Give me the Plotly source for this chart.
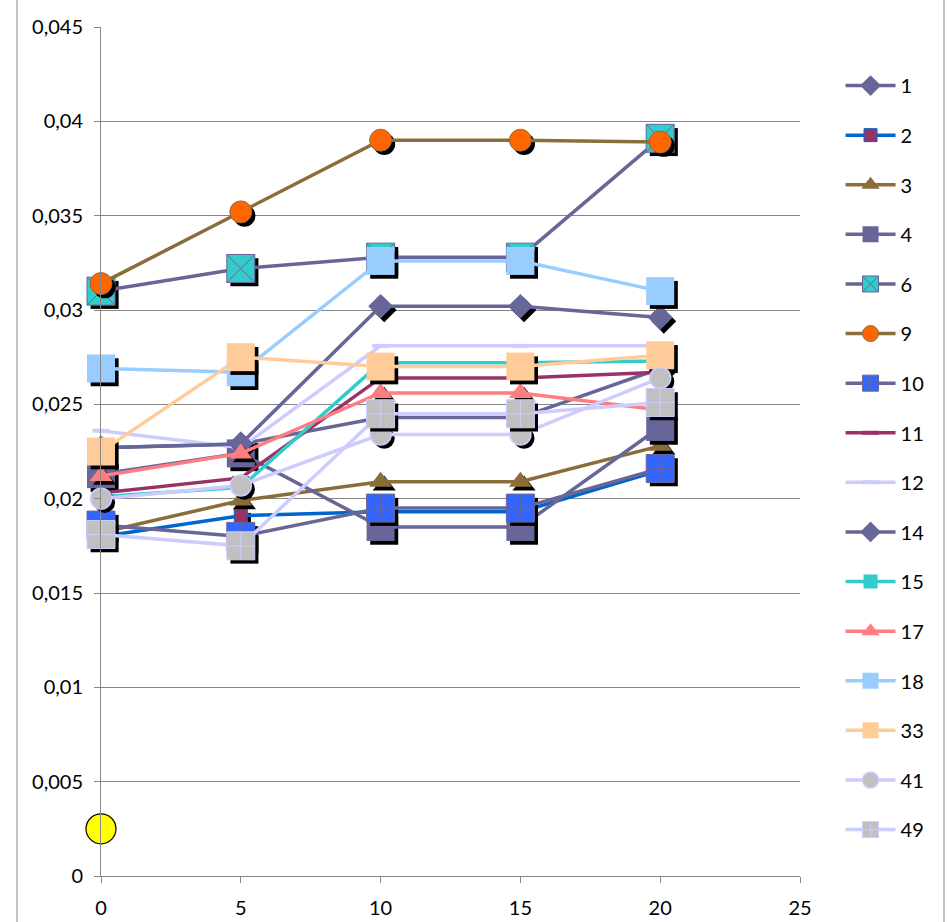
import plotly.graph_objects as go

x_vals = [0, 5, 10, 15, 20]

series_names = ["1", "2", "3", "4", "6", "9", "10", "11", "12", "14", "15", "17", "18", "33", "41", "49"]

s1 = [0.0227, 0.0229, 0.0243, 0.0243, 0.0269]
s2 = [0.0180, 0.0191, 0.0193, 0.0193, 0.0215]
s3 = [0.0182, 0.0199, 0.0209, 0.0209, 0.0228]
s4 = [0.0213, 0.0224, 0.0185, 0.0185, 0.0238]
s6 = [0.0310, 0.0322, 0.0328, 0.0328, 0.0391]
s9 = [0.0314, 0.0352, 0.0390, 0.0390, 0.0389]
s10 = [0.0186, 0.0180, 0.0195, 0.0195, 0.0216]
s11 = [0.0203, 0.0211, 0.0264, 0.0264, 0.0267]
s12 = [0.0236, 0.0227, 0.0281, 0.0281, 0.0281]
s14 = [0.0227, 0.0229, 0.0302, 0.0302, 0.0296]
s15 = [0.0201, 0.0206, 0.0272, 0.0272, 0.0273]
s17 = [0.0212, 0.0224, 0.0256, 0.0256, 0.0247]
s18 = [0.0269, 0.0267, 0.0326, 0.0326, 0.0310]
s33 = [0.0225, 0.0275, 0.0270, 0.0270, 0.0276]
s41 = [0.0200, 0.0207, 0.0234, 0.0234, 0.0264]
s49 = [0.0181, 0.0175, 0.0245, 0.0245, 0.0251]

extra_x = [0]
extra_y = [0.0025]

y_tickvals = [0, 0.005, 0.01, 0.015, 0.02, 0.025, 0.03, 0.035, 0.04, 0.045]
y_ticktext = ["0", "0,005", "0,01", "0,015", "0,02", "0,025", "0,03", "0,035", "0,04", "0,045"]
x_tickvals = [0, 5, 10, 15, 20, 25]

values = [s1, s2, s3, s4, s6, s9, s10, s11, s12, s14, s15, s17, s18, s33, s41, s49]

PUR = "#666699"
BRN = "#8B6D3A"
LAV = "#CCCCFF"
# (line color, symbol, marker size, marker fill, marker line color, marker line width, shadow)
styles = [
    (PUR, "diamond", 19, PUR, PUR, 0, True),
    ("#0066CC", "square", 13, "#993366", "#0066CC", 1, True),
    (BRN, "triangle-up", 20, BRN, BRN, 0, True),
    (PUR, "square", 28, PUR, PUR, 0, True),
    (PUR, "square-x", 28, "#33CCCC", PUR, 1, True),
    (BRN, "circle", 22, "#FF6600", BRN, 1, True),
    (PUR, "square-cross", 28, "#3366FF", PUR, 1, True),
    ("#993366", "line-ew-open", 12, "#993366", "#993366", 4, False),
    (LAV, "line-ew-open", 12, LAV, LAV, 4, False),
    (PUR, "diamond", 19, PUR, PUR, 0, True),
    ("#33CCCC", "square", 14, "#33CCCC", "#33CCCC", 0, True),
    ("#FF7C80", "triangle-up", 20, "#FF7C80", "#FF7C80", 0, True),
    ("#99CCFF", "square", 28, "#99CCFF", "#99CCFF", 0, True),
    ("#FFCC99", "square", 28, "#FFCC99", "#FFCC99", 0, True),
    (LAV, "circle", 21, "#C0C0C0", LAV, 1.5, True),
    (LAV, "square-cross", 28, "#C0C0C0", LAV, 1, True),
]

SDX = 0.13
SDY = -0.0002

fig = go.Figure()
for name, ys, st in zip(series_names, values, styles):
    lc, sym, sz, fc, mlc, mlw, shadow = st
    if shadow:
        sym_base = sym.replace("-x", "").replace("-cross", "")
        fig.add_trace(go.Scatter(
            x=[v + SDX for v in x_vals], y=[v + SDY for v in ys], mode="markers",
            marker=dict(symbol=sym_base, size=sz, color="black", line=dict(width=0)),
            showlegend=False, hoverinfo="skip", cliponaxis=False))
    fig.add_trace(go.Scatter(
        x=x_vals, y=ys, name=name, mode="lines+markers", legendgroup=name,
        line=dict(color=lc, width=3.5), cliponaxis=False,
        marker=dict(symbol=sym, size=sz, color=fc, line=dict(color=mlc, width=mlw))))

fig.add_trace(go.Scatter(
    x=extra_x, y=extra_y, mode="markers", showlegend=False, cliponaxis=False,
    marker=dict(symbol="circle", size=30, color="#FFFF00", line=dict(color="black", width=1.2))))

fig.update_layout(
    width=947, height=922,
    margin=dict(l=101, r=147, t=27, b=46, autoexpand=False),
    paper_bgcolor="white", plot_bgcolor="white",
    font=dict(family="Lato, 'Open Sans', sans-serif", size=20, color="black"),
    legend=dict(
        x=1.058, xanchor="left", y=0.954, yanchor="top",
        traceorder="grouped", tracegroupgap=20.6,
        font=dict(size=20), itemwidth=50,
        bgcolor="rgba(0,0,0,0)"),
    xaxis=dict(range=[0, 25], tickvals=x_tickvals, showgrid=False, zeroline=False,
               showline=True, linecolor="#868686", linewidth=1, automargin=False,
               ticks="outside", ticklen=6, tickcolor="#868686", ticklabelstandoff=8),
    yaxis=dict(range=[0, 0.045], tickvals=y_tickvals, ticktext=y_ticktext,
               showgrid=True, gridcolor="#868686", gridwidth=1, zeroline=False,
               showline=True, linecolor="#868686", linewidth=1, automargin=False,
               ticks="outside", ticklen=6, tickcolor="#868686", ticklabelstandoff=7),
    shapes=[
        dict(type="line", xref="paper", yref="paper", x0=(17 - 101) / 699, x1=(17 - 101) / 699,
             y0=-0.1, y1=1.1, line=dict(color="#868686", width=1)),
        dict(type="line", xref="paper", yref="paper", x0=(944 - 101) / 699, x1=(944 - 101) / 699,
             y0=-0.1, y1=1.1, line=dict(color="#868686", width=1)),
    ],
)

fig.write_html("out.html", config={"displayModeBar": False})

with open("out.html", "r", encoding="utf-8") as f:
    html = f.read()
html = html.replace("<head>", "<head><style>html,body{margin:0;padding:0;}</style>", 1)
with open("out.html", "w", encoding="utf-8") as f:
    f.write(html)
